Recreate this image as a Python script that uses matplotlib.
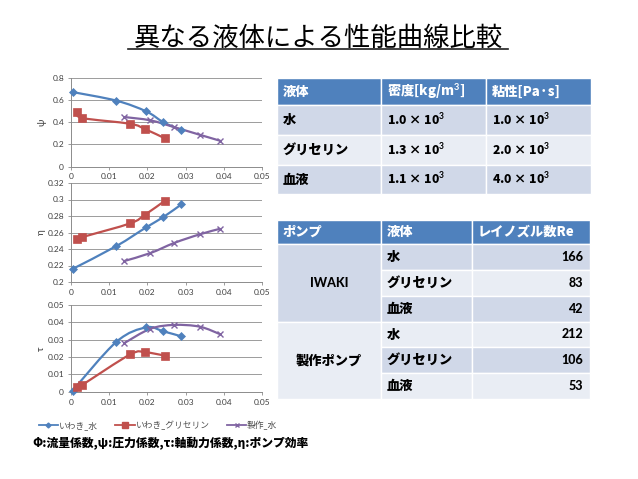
import matplotlib
matplotlib.use('Agg')
import matplotlib.pyplot as plt
from matplotlib.patches import Rectangle, PathPatch
from matplotlib.path import Path
from matplotlib.lines import Line2D
import numpy as np

plt.rcParams['font.family'] = ['Lato', 'Noto Sans CJK JP', 'DejaVu Sans']
plt.rcParams['mathtext.fontset'] = 'custom'
plt.rcParams['mathtext.rm'] = 'Lato'
plt.rcParams['mathtext.bf'] = 'Lato:bold'
CJK = ['Noto Sans CJK JP', 'DejaVu Sans']

# flow coefficient (phi) per series
PHI_IWAKI_WATER = [0.0004, 0.0119, 0.0197, 0.0242, 0.0289]
PHI_IWAKI_GLY = [0.0017, 0.0030, 0.0155, 0.0194, 0.0246]
PHI_MADE_WATER = [0.0140, 0.0208, 0.0270, 0.0337, 0.0391]

# pressure coefficient psi
PSI_IWAKI_WATER = [0.673, 0.595, 0.498, 0.400, 0.329]
PSI_IWAKI_GLY = [0.489, 0.438, 0.386, 0.338, 0.254]
PSI_MADE_WATER = [0.447, 0.417, 0.356, 0.287, 0.232]

# pump efficiency eta
ETA_IWAKI_WATER = [0.2158, 0.2436, 0.2663, 0.2788, 0.2941]
ETA_IWAKI_GLY = [0.2525, 0.2545, 0.2711, 0.2816, 0.2986]
ETA_MADE_WATER = [0.2255, 0.2351, 0.2473, 0.2578, 0.2646]

# shaft power coefficient tau
TAU_IWAKI_WATER = [0.0006, 0.0288, 0.0371, 0.0348, 0.0319]
TAU_IWAKI_GLY = [0.0025, 0.0040, 0.0215, 0.0227, 0.0208]
TAU_MADE_WATER = [0.0281, 0.0363, 0.0385, 0.0375, 0.0331]

SERIES_NAMES = ['いわき_水', 'いわき_グリセリン', '製作_水']

LIQUIDS = ['水', 'グリセリン', '血液']
DENSITY = ['1.0 × 10$^{\\mathbf{3}}$', '1.3 × 10$^{\\mathbf{3}}$', '1.1 × 10$^{\\mathbf{3}}$']
VISCOSITY = ['1.0 × 10$^{\\mathbf{3}}$', '2.0 × 10$^{\\mathbf{3}}$', '4.0 × 10$^{\\mathbf{3}}$']
HEAD1 = ['液体', '密度[kg/m$^{\\mathbf{3}}$]', '粘性[Pa·s]']

PUMPS = ['IWAKI', '製作ポンプ']
REYNOLDS = [166, 83, 42, 212, 106, 53]
HEAD2 = ['ポンプ', '液体', 'レイノズル数Re']

BLUE = '#4F81BD'
RED = '#C0504D'
PURPLE = '#8064A2'
DARK = '#D0D8E8'
LIGHT = '#E9EDF4'
GRID = '#8C8C8C'

W, H = 638, 479
fig = plt.figure(figsize=(W / 100, H / 100), dpi=100)


def fx(x):
    return x / W


def fy(y):
    return 1 - y / H


def smooth_line(ax, xs, ys, color):
    # Excel style smoothed line: bezier through the data points
    P = np.column_stack([xs, ys])
    n = len(P)
    verts = [P[0]]
    codes = [Path.MOVETO]
    for i in range(n - 1):
        p0 = P[max(i - 1, 0)]
        p1 = P[i]
        p2 = P[i + 1]
        p3 = P[min(i + 2, n - 1)]
        verts += [p1 + (p2 - p0) / 6, p2 - (p3 - p1) / 6, p2]
        codes += [Path.CURVE4] * 3
    ax.add_patch(PathPatch(Path(verts, codes), facecolor='none',
                           edgecolor=color, lw=1.6, zorder=3))


def make_axes(top, bottom, ylim, yticks, ylabel):
    ax = fig.add_axes([fx(71), fy(bottom), fx(262) - fx(71), (bottom - top) / H])
    ax.set_xlim(0, 0.05)
    ax.set_ylim(*ylim)
    ax.set_xticks([0, 0.01, 0.02, 0.03, 0.04, 0.05])
    ax.set_xticklabels(['0', '0.01', '0.02', '0.03', '0.04', '0.05'])
    ax.set_yticks(yticks)
    ax.set_yticklabels([f'{v:g}' for v in yticks])
    ax.grid(axis='y', color=GRID, lw=0.6)
    ax.set_axisbelow(True)
    for s in ['top', 'right']:
        ax.spines[s].set_visible(False)
    for s in ['left', 'bottom']:
        ax.spines[s].set_color(GRID)
        ax.spines[s].set_linewidth(0.7)
    ax.tick_params(labelsize=6, colors='#404040', length=2.5, width=0.6,
                   pad=2.5, color=GRID)
    ax.set_ylabel(ylabel, fontsize=7, color='#404040')
    ax.yaxis.set_label_coords(-0.13, 0.5)
    return ax


def draw_series(ax, ys_list):
    xs_list = [PHI_IWAKI_WATER, PHI_IWAKI_GLY, PHI_MADE_WATER]
    styles = [(BLUE, 'D', 3.8), (RED, 's', 5.5), (PURPLE, 'x', 4.5)]
    for xs, ys, (c, m, ms) in zip(xs_list, ys_list, styles):
        smooth_line(ax, xs, ys, c)
        ax.plot(xs, ys, ls='none', marker=m, ms=ms, color=c,
                mec=c, mew=1.0 if m == 'x' else 0.5, zorder=4, clip_on=False)


ax1 = make_axes(78, 166.5, (0, 0.8), [0, 0.2, 0.4, 0.6, 0.8], 'ψ')
draw_series(ax1, [PSI_IWAKI_WATER, PSI_IWAKI_GLY, PSI_MADE_WATER])

ax2 = make_axes(183, 282, (0.2, 0.32),
                [0.2, 0.22, 0.24, 0.26, 0.28, 0.3, 0.32], 'η')
draw_series(ax2, [ETA_IWAKI_WATER, ETA_IWAKI_GLY, ETA_MADE_WATER])

ax3 = make_axes(305, 391.7, (0, 0.05),
                [0, 0.01, 0.02, 0.03, 0.04, 0.05], 'τ')
draw_series(ax3, [TAU_IWAKI_WATER, TAU_IWAKI_GLY, TAU_MADE_WATER])

handles = [Line2D([], [], color=BLUE, marker='D', ms=2.5, lw=1.3),
           Line2D([], [], color=RED, marker='s', ms=3.8, lw=1.3),
           Line2D([], [], color=PURPLE, marker='x', ms=3.5, lw=1.3)]
leg = fig.legend(handles, SERIES_NAMES, loc='center', ncol=3, frameon=False,
                 bbox_to_anchor=(fx(158), fy(425)), fontsize=6.3,
                 handlelength=2.2, handletextpad=0.1, columnspacing=2.0)
for t in leg.get_texts():
    t.set_color('#505050')

# title with underline
fig.text(fx(318), fy(38), '異なる液体による性能曲線比較', ha='center', va='center',
         fontsize=19, family=CJK)
fig.add_artist(Line2D([fx(128), fx(508)], [fy(48.5), fy(48.5)],
                      color='#202020', lw=1.2))

# footer
fig.text(fx(32), fy(443), 'Φ:流量係数,ψ:圧力係数,τ:軸動力係数,η:ポンプ効率',
         ha='left', va='center', fontsize=8.5, fontweight='black', family=CJK)


def cell(x0, y0, x1, y1, color):
    fig.add_artist(Rectangle((fx(x0), fy(y1)), (x1 - x0) / W, (y1 - y0) / H,
                             transform=fig.transFigure, facecolor=color,
                             edgecolor='white', lw=1.0))


def cell_text(x, y, s, ha='left', color='black', size=9.5, family=None):
    fig.text(fx(x), fy(y), s, ha=ha, va='center', fontsize=size,
             fontweight='black', color=color, family=family or CJK)


# table 1: liquid properties
cols1 = [277, 381, 486, 591]
rows1 = [78, 105, 135, 165, 194]
for j in range(3):
    cell(cols1[j], rows1[0], cols1[j + 1], rows1[1], BLUE)
    cell_text(cols1[j] + 6, (rows1[0] + rows1[1]) / 2, HEAD1[j], color='white')
for i in range(3):
    bg = DARK if i % 2 == 0 else LIGHT
    yc = (rows1[i + 1] + rows1[i + 2]) / 2
    vals = [LIQUIDS[i], DENSITY[i], VISCOSITY[i]]
    for j in range(3):
        cell(cols1[j], rows1[i + 1], cols1[j + 1], rows1[i + 2], bg)
        cell_text(cols1[j] + 6, yc, vals[j], size=9.5 if j == 0 else 8.8)

# table 2: Reynolds numbers
cols2 = [277, 381, 472, 590]
rows2 = [220, 244, 270, 296, 322, 347, 373, 399]
for j in range(3):
    cell(cols2[j], rows2[0], cols2[j + 1], rows2[1], BLUE)
    cell_text(cols2[j] + 6, (rows2[0] + rows2[1]) / 2, HEAD2[j], color='white')
for k in range(2):
    bg = DARK if k == 0 else LIGHT
    y0, y1 = rows2[1 + 3 * k], rows2[4 + 3 * k]
    cell(cols2[0], y0, cols2[1], y1, bg)
    cell_text((cols2[0] + cols2[1]) / 2, (y0 + y1) / 2, PUMPS[k], ha='center',
              size=9 if k == 0 else 9.5,
              family=['Lato', 'DejaVu Sans'] if k == 0 else None)
for i in range(6):
    bg = DARK if i % 2 == 0 else LIGHT
    yc = (rows2[i + 1] + rows2[i + 2]) / 2
    cell(cols2[1], rows2[i + 1], cols2[2], rows2[i + 2], bg)
    cell(cols2[2], rows2[i + 1], cols2[3], rows2[i + 2], bg)
    cell_text(cols2[1] + 6, yc, LIQUIDS[i % 3])
    cell_text(cols2[3] - 7, yc, str(REYNOLDS[i]), ha='right', size=9,
              family=['Lato', 'DejaVu Sans'])

plt.savefig('out.png', dpi=100)
plt.close()
